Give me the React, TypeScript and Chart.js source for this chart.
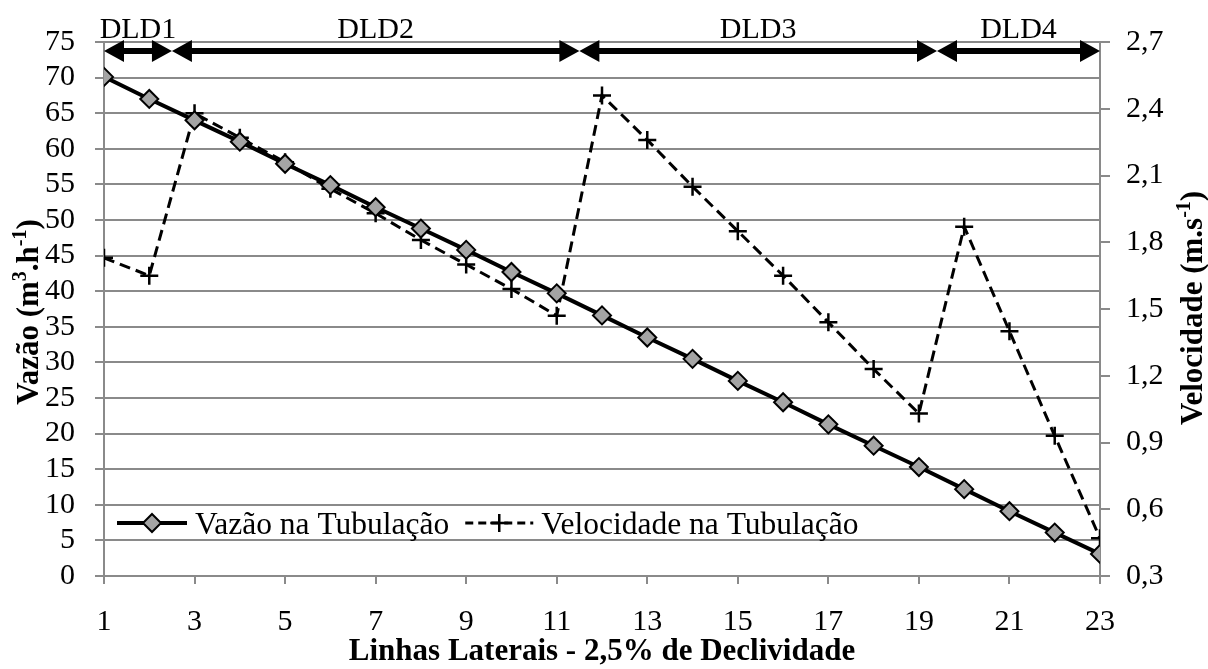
import React, { useEffect, useRef } from "react";
import { Chart, registerables } from "chart.js";

Chart.register(...registerables);

// ---------- data ----------
const lateralLines = [1, 2, 3, 4, 5, 6, 7, 8, 9, 10, 11, 12, 13, 14, 15, 16, 17, 18, 19, 20, 21, 22, 23];
const vazaoValues = [70.1, 67.0, 64.0, 61.0, 57.9, 54.9, 51.8, 48.8, 45.8, 42.7, 39.7, 36.6, 33.5, 30.5, 27.4, 24.4, 21.3, 18.3, 15.3, 12.2, 9.1, 6.1, 3.1];
const velocidadeValues = [1.73, 1.65, 2.38, 2.27, 2.16, 2.04, 1.93, 1.81, 1.70, 1.59, 1.47, 2.46, 2.26, 2.05, 1.85, 1.65, 1.44, 1.23, 1.03, 1.87, 1.40, 0.93, 0.47];
const xTickValues = [1, 3, 5, 7, 9, 11, 13, 15, 17, 19, 21, 23];
const vazaoTicks = [0, 5, 10, 15, 20, 25, 30, 35, 40, 45, 50, 55, 60, 65, 70, 75];
const velocidadeTicks = [0.3, 0.6, 0.9, 1.2, 1.5, 1.8, 2.1, 2.4, 2.7];
const dldBounds = [1, 2.5, 11.5, 19.4, 23];
const dldLabels = ["DLD1", "DLD2", "DLD3", "DLD4"];
const seriesNames = ["Vazão na Tubulação", "Velocidade na Tubulação"];
const xTitle = "Linhas Laterais - 2,5% de Declividade";
const leftTitle = [
  { t: "Vazão (m" },
  { t: "3", sup: true },
  { t: ".h" },
  { t: "-1", sup: true },
  { t: ")" },
];
const rightTitle = [
  { t: "Velocidade (m.s" },
  { t: "-1", sup: true },
  { t: ")" },
];

// ---------- style ----------
const FONT = "'Liberation Serif', 'Times New Roman', serif";
const GRID = "#8a8a8a";
const DIAMOND_FILL = "#a4a4a4";
const TICK_SIZE = 30;
const LEGEND_SIZE = 31.5;
const TITLE_SIZE = 31;

function drawDiamond(ctx: CanvasRenderingContext2D, x: number, y: number, r: number) {
  ctx.beginPath();
  ctx.moveTo(x, y - r);
  ctx.lineTo(x + r, y);
  ctx.lineTo(x, y + r);
  ctx.lineTo(x - r, y);
  ctx.closePath();
  ctx.fillStyle = DIAMOND_FILL;
  ctx.fill();
  ctx.lineWidth = 2;
  ctx.strokeStyle = "#000";
  ctx.stroke();
}

function drawCross(ctx: CanvasRenderingContext2D, x: number, y: number, r: number) {
  ctx.beginPath();
  ctx.moveTo(x - r, y);
  ctx.lineTo(x + r, y);
  ctx.moveTo(x, y - r);
  ctx.lineTo(x, y + r);
  ctx.lineWidth = 2.5;
  ctx.strokeStyle = "#000";
  ctx.setLineDash([]);
  ctx.stroke();
}

function drawRich(
  ctx: CanvasRenderingContext2D,
  parts: { t: string; sup?: boolean }[],
  cx: number,
  cy: number,
  rotate: boolean,
  size: number
) {
  ctx.save();
  ctx.translate(cx, cy);
  if (rotate) ctx.rotate(-Math.PI / 2);
  const fMain = `bold ${size}px ${FONT}`;
  const fSup = `bold ${Math.round(size * 0.64)}px ${FONT}`;
  let total = 0;
  for (const p of parts) {
    ctx.font = p.sup ? fSup : fMain;
    total += ctx.measureText(p.t).width;
  }
  let x = -total / 2;
  const base = size * 0.33;
  ctx.textAlign = "left";
  ctx.textBaseline = "alphabetic";
  ctx.fillStyle = "#000";
  for (const p of parts) {
    ctx.font = p.sup ? fSup : fMain;
    ctx.fillText(p.t, x, p.sup ? base - size * 0.4 : base);
    x += ctx.measureText(p.t).width;
  }
  ctx.restore();
}

const overlayPlugin = {
  id: "overlay",
  afterDraw(chart: any) {
    const { ctx, chartArea: ca, scales } = chart;
    const xs = scales.x;
    ctx.save();

    // segment arrows
    const ay = ca.top + 9;
    const hl = 20;
    const hw = 11;
    for (let i = 0; i < dldLabels.length; i++) {
      const x0 = xs.getPixelForValue(dldBounds[i]);
      const x1 = xs.getPixelForValue(dldBounds[i + 1]);
      ctx.fillStyle = "#000";
      ctx.strokeStyle = "#000";
      ctx.lineWidth = 6;
      ctx.setLineDash([]);
      ctx.beginPath();
      ctx.moveTo(x0 + hl - 4, ay);
      ctx.lineTo(x1 - hl + 4, ay);
      ctx.stroke();
      ctx.beginPath();
      ctx.moveTo(x0, ay);
      ctx.lineTo(x0 + hl, ay - hw);
      ctx.lineTo(x0 + hl, ay + hw);
      ctx.closePath();
      ctx.fill();
      ctx.beginPath();
      ctx.moveTo(x1, ay);
      ctx.lineTo(x1 - hl, ay - hw);
      ctx.lineTo(x1 - hl, ay + hw);
      ctx.closePath();
      ctx.fill();
      ctx.font = `${TICK_SIZE}px ${FONT}`;
      ctx.textAlign = "center";
      ctx.textBaseline = "alphabetic";
      ctx.fillText(dldLabels[i], (x0 + x1) / 2, ca.top - 4);
    }

    // legend
    const ly = ca.bottom - 53;
    let lx = ca.left + 13;
    ctx.strokeStyle = "#000";
    ctx.lineWidth = 4;
    ctx.setLineDash([]);
    ctx.beginPath();
    ctx.moveTo(lx, ly);
    ctx.lineTo(lx + 70, ly);
    ctx.stroke();
    drawDiamond(ctx, lx + 35, ly, 9);
    ctx.font = `${LEGEND_SIZE}px ${FONT}`;
    ctx.fillStyle = "#000";
    ctx.textAlign = "left";
    ctx.textBaseline = "alphabetic";
    ctx.fillText(seriesNames[0], lx + 78, ly + 11);
    lx = lx + 78 + ctx.measureText(seriesNames[0]).width + 16;
    ctx.lineWidth = 3;
    ctx.setLineDash([8, 5]);
    ctx.beginPath();
    ctx.moveTo(lx, ly);
    ctx.lineTo(lx + 68, ly);
    ctx.stroke();
    ctx.setLineDash([]);
    drawCross(ctx, lx + 34, ly, 9);
    ctx.fillStyle = "#000";
    ctx.font = `${LEGEND_SIZE}px ${FONT}`;
    ctx.fillText(seriesNames[1], lx + 76, ly + 11);

    // axis titles
    drawRich(ctx, [{ t: xTitle }], (ca.left + ca.right) / 2, 650, false, TITLE_SIZE);
    drawRich(ctx, leftTitle, 28, 312, true, TITLE_SIZE);
    drawRich(ctx, rightTitle, 1192, 308, true, TITLE_SIZE);

    ctx.restore();
  },
};

export default function App() {
  const ref = useRef<HTMLCanvasElement | null>(null);

  useEffect(() => {
    if (!ref.current) return;
    const chart = new Chart(ref.current, {
      type: "line",
      data: {
        datasets: [
          {
            label: seriesNames[0],
            data: lateralLines.map((x, i) => ({ x, y: vazaoValues[i] })),
            yAxisID: "y",
            borderColor: "#000",
            borderWidth: 4,
            pointStyle: "rectRot",
            pointRadius: 9,
            pointBackgroundColor: DIAMOND_FILL,
            pointBorderColor: "#000",
            pointBorderWidth: 2,
            tension: 0,
          },
          {
            label: seriesNames[1],
            data: lateralLines.map((x, i) => ({ x, y: velocidadeValues[i] })),
            yAxisID: "y1",
            borderColor: "#000",
            borderWidth: 3,
            borderDash: [11, 6],
            pointStyle: "cross",
            pointRadius: 9,
            pointBorderColor: "#000",
            pointBorderWidth: 2.5,
            tension: 0,
          },
        ],
      },
      options: {
        responsive: false,
        animation: false,
        layout: { padding: { top: 42, left: 0, right: 0, bottom: 0 } },
        plugins: {
          legend: { display: false },
          tooltip: { enabled: false },
          title: { display: false },
        },
        scales: {
          x: {
            type: "linear",
            min: 1,
            max: 23,
            afterBuildTicks: (s: any) => {
              s.ticks = xTickValues.map((v) => ({ value: v }));
            },
            afterFit: (s: any) => {
              s.height = 93;
            },
            ticks: {
              color: "#000",
              font: { family: FONT, size: TICK_SIZE },
              padding: 20,
              maxRotation: 0,
              autoSkip: false,
            },
            grid: { drawOnChartArea: false, color: GRID, lineWidth: 2, tickLength: 8 },
            border: { color: GRID, width: 2 },
          },
          y: {
            type: "linear",
            position: "left",
            min: 0,
            max: 75,
            afterBuildTicks: (s: any) => {
              s.ticks = vazaoTicks.map((v) => ({ value: v }));
            },
            afterFit: (s: any) => {
              s.width = 104;
            },
            ticks: {
              color: "#000",
              font: { family: FONT, size: TICK_SIZE },
              padding: 20,
              autoSkip: false,
            },
            grid: { color: GRID, lineWidth: 2, tickLength: 9 },
            border: { color: GRID, width: 2 },
          },
          y1: {
            type: "linear",
            position: "right",
            min: 0.3,
            max: 2.7,
            afterBuildTicks: (s: any) => {
              s.ticks = velocidadeTicks.map((v) => ({ value: v }));
            },
            afterFit: (s: any) => {
              s.width = 108;
            },
            ticks: {
              color: "#000",
              font: { family: FONT, size: TICK_SIZE },
              padding: 16,
              autoSkip: false,
              callback: (v: any) => Number(v).toFixed(1).replace(".", ","),
            },
            grid: { drawOnChartArea: false, color: GRID, lineWidth: 2, tickLength: 10 },
            border: { color: GRID, width: 2 },
          },
        },
      },
      plugins: [overlayPlugin],
    });
    return () => chart.destroy();
  }, []);

  return (
    <div style={{ position: "absolute", left: 0, top: 0, width: 1208, height: 669, background: "#fff" }}>
      <canvas ref={ref} width={1208} height={669} style={{ width: 1208, height: 669, display: "block" }} />
    </div>
  );
}
